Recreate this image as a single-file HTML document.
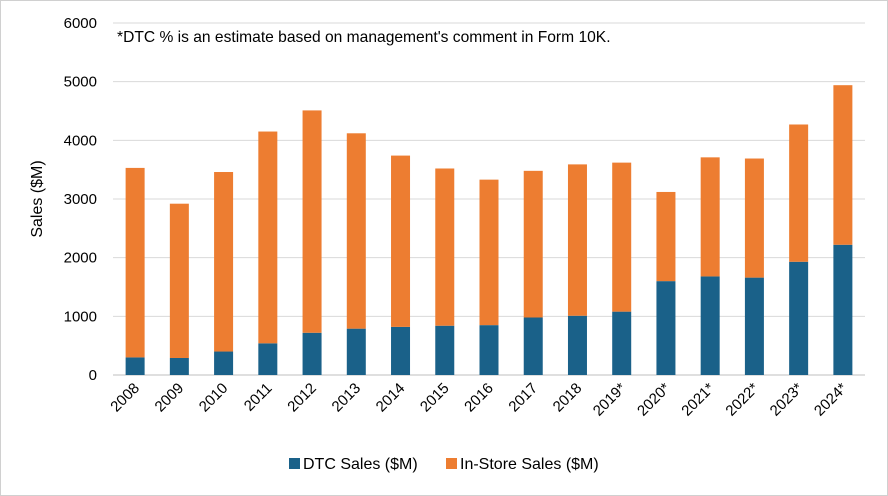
<!DOCTYPE html>
<html><head><meta charset="utf-8"><style>
html,body{margin:0;padding:0;background:#fff;}
svg{display:block;font-family:"Liberation Sans",Arial,sans-serif;}
</style></head><body>
<svg id="chart" width="888" height="496">
<rect x="0.5" y="0.5" width="887" height="495" fill="#fff" stroke="#d0d0d0"/>
<g id="grid"></g><g id="bars"></g><g id="xlabels"></g><g id="ylabels"></g>
<text x="117" y="42" font-size="15.6" fill="#000">*DTC % is an estimate based on management's comment in Form 10K.</text>
<text transform="translate(42,199) rotate(-90)" text-anchor="middle" font-size="16" fill="#000">Sales ($M)</text>
<g>
<rect x="289" y="458" width="11" height="11" fill="#1a6189"/>
<text x="303" y="469" font-size="16">DTC Sales ($M)</text>
<rect x="446" y="458" width="11" height="11" fill="#ed7d31"/>
<text x="460" y="469" font-size="16">In-Store Sales ($M)</text>
</g>
</svg>
<script>
const categories=["2008","2009","2010","2011","2012","2013","2014","2015","2016","2017","2018","2019*","2020*","2021*","2022*","2023*","2024*"];
const dtcSales=[300,290,400,540,720,790,820,840,850,980,1010,1080,1600,1680,1660,1930,2220];
const inStoreSales=[3230,2630,3060,3610,3790,3330,2920,2680,2480,2500,2580,2540,1520,2030,2030,2340,2720];
const yTicks=[0,1000,2000,3000,4000,5000,6000];
const NS="http://www.w3.org/2000/svg";
const y0=375,yTop=23,yMax=6000,xL=113,xR=865;
const ys=v=>y0-(v/yMax)*(y0-yTop);
const step=(xR-xL)/categories.length;
const xc=i=>xL+step*(i+0.5);
const bw=19;
function mk(t,a,p){const e=document.createElementNS(NS,t);for(const k in a)e.setAttribute(k,a[k]);p.appendChild(e);return e;}
const grid=document.getElementById('grid'),bars=document.getElementById('bars'),xl=document.getElementById('xlabels'),yl=document.getElementById('ylabels');
yTicks.forEach(v=>{
 const l=mk('line',{x1:xL,x2:xR,y1:ys(v),y2:ys(v),stroke:v===0?'#bfbfbf':'#d9d9d9','stroke-width':1},grid);
 
 
 const t=mk('text',{x:97,y:ys(v)+5,'text-anchor':'end','font-size':15},yl);
 t.textContent=v;
 
 
});
categories.forEach((c,i)=>{
 const d=mk('rect',{x:xc(i)-bw/2,y:ys(dtcSales[i]),width:bw,height:y0-ys(dtcSales[i]),fill:'#1a6189'},bars);
 
 
 const tot=dtcSales[i]+inStoreSales[i];
 const s=mk('rect',{x:xc(i)-bw/2,y:ys(tot),width:bw,height:ys(dtcSales[i])-ys(tot),fill:'#ed7d31'},bars);
 
 
 const t=mk('text',{transform:`translate(${xc(i)+5},${y0+14}) rotate(-45)`,'text-anchor':'end','font-size':15},xl);
 t.textContent=c;
 
 
});
</script>
</body></html>
